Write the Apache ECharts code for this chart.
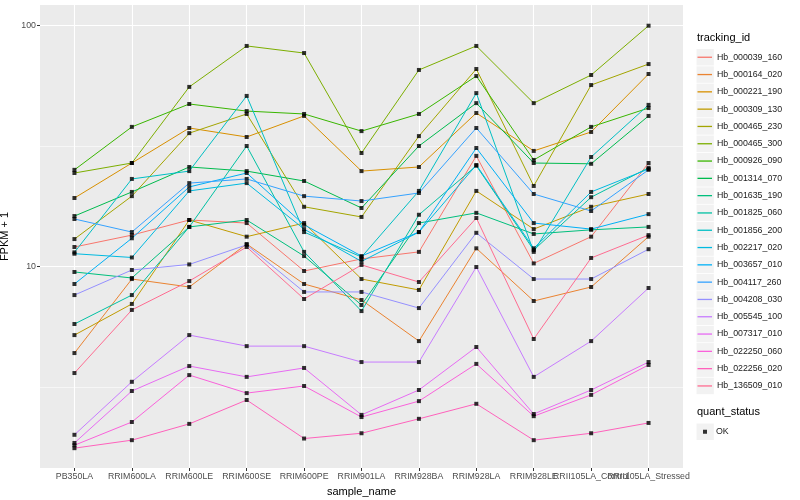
<!DOCTYPE html>
<html><head><meta charset="utf-8">
<script src="https://cdn.jsdelivr.net/npm/echarts@6/dist/echarts.min.js"></script>
<style>html,body{margin:0;padding:0;background:#fff}#c{width:800px;height:500px}</style>
</head><body><div id="c"></div>
<script>
const categories = ['PB350LA','RRIM600LA','RRIM600LE','RRIM600SE','RRIM600PE','RRIM901LA','RRIM928BA','RRIM928LA','RRIM928LE','RRII105LA_Control','RRII105LA_Stressed'];
const trackingIds = ['Hb_000039_160','Hb_000164_020','Hb_000221_190','Hb_000309_130','Hb_000465_230','Hb_000465_300','Hb_000926_090','Hb_001314_070','Hb_001635_190','Hb_001825_060','Hb_001856_200','Hb_002217_020','Hb_003657_010','Hb_004117_260','Hb_004208_030','Hb_005545_100','Hb_007317_010','Hb_022250_060','Hb_022256_020','Hb_136509_010'];
const colors = ['#F8766D','#EA8331','#D89000','#C09B00','#A3A500','#7CAE00','#39B600','#00BB4E','#00BF7D','#00C1A3','#00BFC4','#00BAE0','#00B0F6','#35A2FF','#9590FF','#C77CFF','#E76BF3','#FA62DB','#FF62BC','#FF6C91'];
const yTicks = [10, 100];
const yMinor = [3.1623, 31.623];
const yMin = 1.456, yMax = 121.9;

const s000039_160 = [12.05,13.5,15.6,15.15,9.58,10.75,11.5,28.8,10.3,13.3,26.9];
const s000164_020 = [4.37,8.87,8.22,12.4,8.46,7.26,4.90,11.9,7.19,8.22,13.3];
const s000221_190 = [19.25,26.9,37.6,34.5,42.2,24.9,25.9,43.4,30.2,36.2,63.0];
const s000309_130 = [5.19,6.99,15.6,13.3,15.15,8.87,7.99,20.6,14.3,17.7,20.0];
const s000465_230 = [13.0,19.6,35.8,43.0,17.7,16.06,34.8,66.1,21.6,56.7,69.3];
const s000465_300 = [24.45,26.9,55.7,82.4,77.0,29.6,65.5,82.4,47.7,62.4,100];
const s000926_090 = [25.2,38.0,47.3,44.2,43.0,36.5,43.0,61.8,27.7,38.0,45.5];
const s001314_070 = [16.2,20.4,25.9,24.9,22.65,17.5,31.65,47.7,26.9,26.7,42.2];
const s001635_190 = [9.49,8.96,14.6,15.6,11.05,6.92,15.15,16.7,13.65,14.2,14.6];
const s001825_060 = [5.77,7.61,14.6,31.65,11.5,6.53,16.4,26.2,11.7,19.4,25.7];
const s001856_200 = [11.45,23.1,24.9,51.1,13.9,10.95,20.6,52.5,11.5,28.5,46.9];
const s002217_020 = [11.3,10.9,20.6,22.2,14.3,10.5,13.9,26.4,11.9,20.4,25.4];
const s003657_010 = [8.46,13.1,21.4,24.45,14.9,11.05,13.9,31.05,15.15,14.3,16.5];
const s004117_260 = [15.75,13.9,22.2,23.1,19.6,18.7,20.2,37.6,20.0,17.0,25.2];
const s004208_030 = [7.61,9.67,10.2,12.3,7.84,7.84,6.72,13.8,8.87,8.87,11.8];
const s005545_100 = [2.00,3.32,5.19,4.67,4.67,4.01,4.01,9.95,3.48,4.90,8.14];
const s007317_010 = [1.85,3.04,3.86,3.48,3.79,2.42,3.07,4.63,2.44,3.07,4.01];
const s022250_060 = [1.81,2.26,3.54,2.98,3.19,2.37,2.76,3.94,2.39,2.93,3.90];
const s022256_020 = [1.76,1.90,2.22,2.79,1.93,2.03,2.33,2.69,1.90,2.03,2.24];
const s136509_010 = [3.61,6.60,8.70,12.05,7.33,10.15,8.62,15.9,5.00,10.85,13.5];

const seriesValues = [s000039_160,s000164_020,s000221_190,s000309_130,s000465_230,s000465_300,s000926_090,s001314_070,s001635_190,s001825_060,s001856_200,s002217_020,s003657_010,s004117_260,s004208_030,s005545_100,s007317_010,s022250_060,s022256_020,s136509_010];

const FONT = 'Liberation Sans';
const chart = echarts.init(document.getElementById('c'), null, {renderer: 'canvas'});

const catIndex = categories.map((c, i) => i);
// labels split over two axes so that overlapping neighbours are all kept
const labelSetA = catIndex.filter(i => i !== 9);
const labelSetB = [9];

const lineSeries = trackingIds.map((name, k) => ({
  name: name,
  type: 'line',
  data: seriesValues[k].map((v, i) => [catIndex[i], v]),
  showSymbol: false,
  symbol: 'none',
  itemStyle: {color: colors[k]},
  lineStyle: {color: colors[k], width: 1},
  emphasis: {disabled: true},
  z: 2
}));

const okPoints = [];
seriesValues.forEach(arr => arr.forEach((v, i) => okPoints.push([catIndex[i], v])));

const legendTop = 48.6, legendStep = 17.3;
const keyRects = trackingIds.map((n, i) => ({
  type: 'rect',
  shape: {x: 696.5, y: legendTop + i * legendStep + 0.4, width: 17.3, height: legendStep - 0.8},
  style: {fill: '#f2f2f2'},
  z: 0
}));
keyRects.push({
  type: 'rect',
  shape: {x: 696.5, y: 423.5, width: 17.3, height: 16.5},
  style: {fill: '#f2f2f2'},
  z: 0
});

const xLabelStyle = {hideOverlap: false, margin: 4.5, fontFamily: FONT, fontSize: 8.8, color: '#4d4d4d',
  formatter: v => categories[Math.round(v)] || ''};

chart.setOption({
  animation: false,
  backgroundColor: '#ffffff',
  textStyle: {fontFamily: FONT},
  grid: {left: 40, right: 117, top: 5, bottom: 32, show: true, backgroundColor: '#ebebeb', borderWidth: 0, containLabel: false, outerBoundsMode: 'none'},
  title: [
    {text: 'tracking_id', left: 697, top: 32, padding: 0, textStyle: {fontFamily: FONT, fontSize: 11, fontWeight: 'normal', color: '#000'}},
    {text: 'quant_status', left: 697, top: 406, padding: 0, textStyle: {fontFamily: FONT, fontSize: 11, fontWeight: 'normal', color: '#000'}}
  ],
  legend: [
    {
      data: trackingIds,
      orient: 'vertical',
      left: 697.5,
      top: legendTop,
      padding: 0,
      itemGap: 0,
      itemWidth: 14.5,
      itemHeight: 1.3,
      icon: 'rect',
      selectedMode: false,
      textStyle: {fontFamily: FONT, fontSize: 8.8, color: '#1a1a1a', lineHeight: legendStep}
    },
    {
      data: ['OK'],
      orient: 'vertical',
      left: 703,
      top: 423.5,
      padding: 0,
      itemWidth: 4,
      itemHeight: 4,
      icon: 'rect',
      selectedMode: false,
      textStyle: {fontFamily: FONT, fontSize: 8.8, color: '#1a1a1a', lineHeight: 16.5, padding: [0,0,0,4]}
    }
  ],
  graphic: keyRects,
  xAxis: [
    {
      type: 'value',
      min: -0.6,
      max: 10.6,
      position: 'bottom',
      name: 'sample_name',
      nameLocation: 'middle',
      nameGap: 14,
      nameTextStyle: {fontFamily: FONT, fontSize: 11, color: '#000'},
      axisLine: {show: false, onZero: false},
      axisTick: {show: true, customValues: catIndex, length: 3, lineStyle: {color: '#333333', width: 1}},
      axisLabel: Object.assign({customValues: labelSetA}, xLabelStyle),
      splitLine: {show: true, lineStyle: {color: '#ffffff', width: 1.1}}
    },
    {
      type: 'value',
      min: -0.6,
      max: 10.6,
      position: 'bottom',
      offset: 0,
      axisLine: {show: false, onZero: false},
      axisTick: {show: false, customValues: labelSetB},
      axisLabel: Object.assign({customValues: labelSetB}, xLabelStyle),
      splitLine: {show: false}
    }
  ],
  yAxis: [
    {
      type: 'log',
      logBase: 10,
      min: yMin,
      max: yMax,
      position: 'left',
      name: 'FPKM + 1',
      nameLocation: 'middle',
      nameRotate: 90,
      nameGap: 22,
      nameTextStyle: {fontFamily: FONT, fontSize: 11, color: '#000'},
      axisLine: {show: false, onZero: false},
      axisTick: {show: true, customValues: yTicks, length: 3, lineStyle: {color: '#333333', width: 1}},
      axisLabel: {
        customValues: yTicks,
        margin: 4,
        fontFamily: FONT, fontSize: 8.8, color: '#4d4d4d',
        formatter: v => String(Math.round(v))
      },
      splitLine: {show: true, lineStyle: {color: '#ffffff', width: 1.1}}
    },
    {
      // minor grid lines (ggplot-style, halfway between decades in log space)
      type: 'value',
      min: Math.log10(yMin),
      max: Math.log10(yMax),
      position: 'left',
      offset: 0,
      axisLine: {show: false, onZero: false},
      axisTick: {show: false, customValues: yMinor.map(v => Math.log10(v))},
      axisLabel: {show: false, customValues: yMinor.map(v => Math.log10(v))},
      splitLine: {show: true, lineStyle: {color: '#ffffff', width: 0.55}}
    }
  ],
  series: [
    ...lineSeries,
    {
      name: 'OK',
      type: 'scatter',
      data: okPoints,
      symbol: 'rect',
      symbolSize: 4,
      itemStyle: {color: '#000000'},
      emphasis: {disabled: true},
      z: 3
    }
  ]
});
</script>
</body></html>
